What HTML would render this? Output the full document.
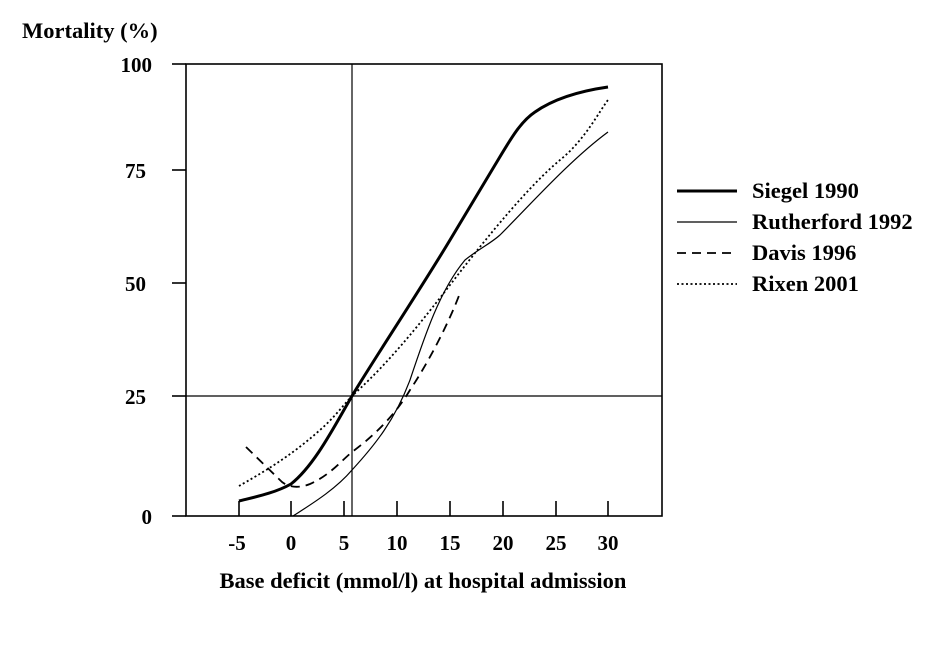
<!DOCTYPE html>
<html><head><style>body{margin:0;background:#fff}</style></head><body>
<svg width="930" height="644" viewBox="0 0 930 644" xmlns="http://www.w3.org/2000/svg" font-family="Liberation Serif, serif" font-weight="bold">
<rect width="930" height="644" fill="#fff"/>
<text x="22" y="38" font-size="22.5">Mortality (%)</text>
<g stroke="#000" stroke-width="1.6" fill="none">
<rect x="186" y="64" width="476" height="452"/>
<line x1="172" y1="64" x2="186" y2="64"/>
<line x1="172" y1="170" x2="186" y2="170"/>
<line x1="172" y1="283" x2="186" y2="283"/>
<line x1="172" y1="396" x2="186" y2="396"/>
<line x1="172" y1="516" x2="186" y2="516"/>
<line x1="239" y1="516" x2="239" y2="501"/>
<line x1="291" y1="516" x2="291" y2="501"/>
<line x1="344" y1="516" x2="344" y2="501"/>
<line x1="397" y1="516" x2="397" y2="501"/>
<line x1="450" y1="516" x2="450" y2="501"/>
<line x1="503" y1="516" x2="503" y2="501"/>
<line x1="556" y1="516" x2="556" y2="501"/>
<line x1="608" y1="516" x2="608" y2="501"/>
<line x1="352" y1="64" x2="352" y2="516" stroke-width="1.2"/>
<line x1="186" y1="396" x2="662" y2="396" stroke-width="1.2"/>
<path d="M239,501 C255,497 275,493 291,484 C315,465 335,425 352,396 S420,290 450,240 L495,165 C510,140 520,122 535,112 C555,98 580,91 608,87" stroke-width="3"/>
<path d="M293,516 C310,505 335,490 352,470 C375,445 395,420 410,380 C425,335 440,290 465,260 C480,248 490,244 500,235 C530,205 570,160 608,132" stroke-width="1.2"/>
<path d="M246,447 L282,482 C290,488 300,488 310,484 C330,475 340,462 352,452 C375,435 395,415 410,390 C430,360 450,320 460,293" stroke-dasharray="9,6" stroke-width="1.8"/>
<path d="M239,486 C260,474 290,457 320,430 C335,417 345,403 352,396 C375,375 400,350 450,285 C490,233 530,185 560,160 C585,140 600,110 608,100" stroke-dasharray="2,2.5" stroke-width="1.8"/>
<line x1="677" y1="191" x2="737" y2="191" stroke-width="3"/>
<line x1="677" y1="222" x2="737" y2="222" stroke-width="1.2"/>
<line x1="677" y1="253" x2="737" y2="253" stroke-dasharray="9,6" stroke-width="1.8"/>
<line x1="677" y1="284" x2="737" y2="284" stroke-dasharray="2,2.5" stroke-width="1.8"/>
</g>
<g font-size="21" text-anchor="end">
<text x="152" y="72">100</text><text x="146" y="178">75</text><text x="146" y="291">50</text><text x="146" y="404">25</text><text x="152" y="524">0</text>
</g>
<g font-size="21" text-anchor="middle">
<text x="237" y="550">-5</text><text x="291" y="550">0</text><text x="344" y="550">5</text><text x="397" y="550">10</text><text x="450" y="550">15</text><text x="503" y="550">20</text><text x="556" y="550">25</text><text x="608" y="550">30</text>
<text x="423" y="588" font-size="22.5">Base deficit (mmol/l) at hospital admission</text>
</g>
<g font-size="22.5">
<text x="752" y="198">Siegel 1990</text>
<text x="752" y="229">Rutherford 1992</text>
<text x="752" y="260">Davis 1996</text>
<text x="752" y="291">Rixen 2001</text>
</g>
</svg>
</body></html>
